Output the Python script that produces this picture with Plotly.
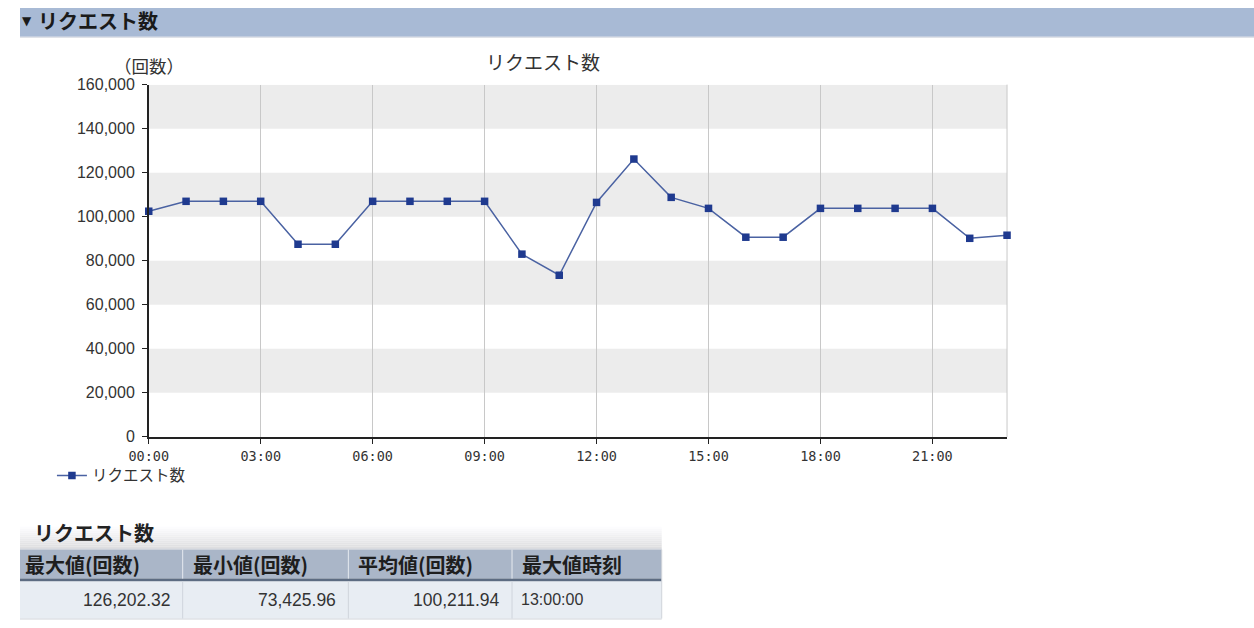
import plotly.graph_objects as go

# ---- data ----
hours = ["00:00", "01:00", "02:00", "03:00", "04:00", "05:00", "06:00", "07:00",
         "08:00", "09:00", "10:00", "11:00", "12:00", "13:00", "14:00", "15:00",
         "16:00", "17:00", "18:00", "19:00", "20:00", "21:00", "22:00", "23:00"]
requests = [102500, 107000, 107000, 107000, 87500, 87500, 107000, 107000,
            107000, 107000, 83000, 73426, 106500, 126202, 108800, 103800,
            90700, 90700, 103800, 103800, 103800, 103800, 90200, 91600]
x_tick_labels = ["00:00", "03:00", "06:00", "09:00", "12:00", "15:00", "18:00", "21:00"]
y_tick_values = [0, 20000, 40000, 60000, 80000, 100000, 120000, 140000, 160000]
band_ranges = [(20000, 40000), (60000, 80000), (100000, 120000), (140000, 160000)]

series_name = "リクエスト数"
section_mark = "▼"
section_title = "リクエスト数"
chart_title = "リクエスト数"
unit_label = "（回数）"
table_title = "リクエスト数"
stat_headers = ["最大値(回数)", "最小値(回数)", "平均値(回数)", "最大値時刻"]
stat_values = ["126,202.32", "73,425.96", "100,211.94", "13:00:00"]

W, H = 1254, 628
# the photographed page is shifted/scaled slightly; map target pixel positions into figure space
OX, SX, OY, SY = 17.0, 0.986, 8.2, 0.975
def X(x):
    return min(max(((x - OX) / SX) / W, 0.0), 1.0)
def Y(y):
    return min(max(1 - ((y - OY) / SY) / H, 0.0), 1.0)

JP = "Noto Sans CJK JP, Noto Sans, sans-serif"
NUM = "Liberation Sans, Arial, sans-serif"

fig = go.Figure()
fig.add_trace(go.Scatter(
    x=hours, y=requests, name=series_name, mode="lines+markers",
    line=dict(color="#4a62a2", width=1.5),
    marker=dict(symbol="square", size=7.5, color="#1f3a8f",
                line=dict(color="#1f3a8f", width=0)),
    cliponaxis=False,
))

P = dict(xref="paper", yref="paper")
shapes = []
for lo, hi in band_ranges:
    shapes.append(dict(type="rect", xref="x domain", yref="y", x0=0, x1=1, y0=lo, y1=hi,
                       fillcolor="#ececec", line=dict(width=0), layer="below"))
shapes.append(dict(type="line", xref="x domain", yref="y domain", x0=1, x1=1, y0=0, y1=1,
                   line=dict(color="#c8c8c8", width=1), layer="below"))

# page header band
shapes.append(dict(type="rect", **P, x0=0, x1=1, y0=Y(37), y1=Y(5),
                   fillcolor="#a8bad5", line=dict(width=0)))
shapes.append(dict(type="line", **P, x0=0, x1=1, y0=Y(37.5), y1=Y(37.5),
                   line=dict(color="#d4d8e0", width=1)))

# table title gradient
tx0, tx1 = 12, 660
grad_top, grad_bot = 528, 550
steps = 11
for i in range(steps):
    a = grad_top + (grad_bot - grad_top) * i / steps
    b = grad_top + (grad_bot - grad_top) * (i + 1) / steps
    g = int(255 - (255 - 222) * (i + 1) / steps)
    shapes.append(dict(type="rect", **P, x0=X(tx0), x1=X(tx1), y0=Y(b), y1=Y(a),
                       fillcolor=f"rgb({g},{g},{g + 2})", line=dict(width=0)))
shapes.append(dict(type="line", **P, x0=X(tx0), x1=X(tx1), y0=Y(550.5), y1=Y(550.5),
                   line=dict(color="#c2c8d2", width=1)))
shapes.append(dict(type="rect", **P, x0=X(tx0), x1=X(tx1), y0=Y(580), y1=Y(551),
                   fillcolor="#aab6c8", line=dict(width=0)))
shapes.append(dict(type="rect", **P, x0=X(tx0), x1=X(tx1), y0=Y(583), y1=Y(580),
                   fillcolor="#5d6c82", line=dict(width=0)))
shapes.append(dict(type="rect", **P, x0=X(tx0), x1=X(tx1), y0=Y(620), y1=Y(583),
                   fillcolor="#e8edf3", line=dict(width=0)))
shapes.append(dict(type="line", **P, x0=X(tx0), x1=X(tx1), y0=Y(620.5), y1=Y(620.5),
                   line=dict(color="#d0d4da", width=1)))
col_edges = [12, 180, 346, 510, 660]
for cx in col_edges[1:-1]:
    shapes.append(dict(type="line", **P, x0=X(cx), x1=X(cx), y0=Y(580), y1=Y(551),
                       line=dict(color="#e6eaf0", width=1)))
    shapes.append(dict(type="line", **P, x0=X(cx), x1=X(cx), y0=Y(620), y1=Y(583),
                       line=dict(color="#cfd4dc", width=1)))
shapes.append(dict(type="line", **P, x0=X(660), x1=X(660), y0=Y(620), y1=Y(551),
                   line=dict(color="#d0d4da", width=1)))

def note(text, x, y, size, anchor="left", family=JP, color="#333333", bold=False):
    f = dict(family=family, size=size, color=color)
    if bold:
        f["weight"] = "bold"
    return dict(text=text, **P, x=X(x), y=Y(y), xanchor=anchor, yanchor="middle",
                showarrow=False, font=f)

annotations = [
    note(section_mark, 17, 21, 12, family="DejaVu Sans, sans-serif", color="#1a1a1a"),
    note(section_title, 33, 21, 20, color="#1a1a1a", bold=True),
    note(chart_title, 541, 62, 19, anchor="center"),
    note(unit_label, 146, 66, 17.5, anchor="center"),
    note(table_title, 29, 534, 20, color="#222222", bold=True),
]
for i, h in enumerate(stat_headers):
    annotations.append(note(h, col_edges[i] + 8, 566, 20, color="#1e1e1e", bold=True))
for i, v in enumerate(stat_values):
    if i < 3:
        annotations.append(note(v, col_edges[i + 1] - 10, 601, 17.5, anchor="right", family=NUM))
    else:
        annotations.append(note(v, col_edges[i] + 7, 601, 16, family=NUM))

fig.update_layout(
    width=W, height=H,
    margin=dict(l=0, r=0, t=0, b=0),
    paper_bgcolor="white", plot_bgcolor="white",
    shapes=shapes, annotations=annotations,
    showlegend=True,
    legend=dict(x=X(49), y=Y(477), xanchor="left", yanchor="middle",
                orientation="h", bgcolor="rgba(0,0,0,0)", itemwidth=30,
                tracegroupgap=0, borderwidth=0,
                font=dict(family=JP, size=15.5, color="#333333")),
    xaxis=dict(
        domain=[X(146), X(1006)], type="category", range=[0, 23],
        tickmode="array", tickvals=x_tick_labels, ticktext=x_tick_labels,
        showgrid=True, gridcolor="#c8c8c8", gridwidth=1,
        showline=True, linecolor="#222222", linewidth=1.5,
        ticks="outside", ticklen=5, tickcolor="#222222", ticklabelstandoff=1,
        tickfont=dict(family="DejaVu Sans Mono, monospace", size=13.5, color="#333333"),
        zeroline=False, fixedrange=True,
    ),
    yaxis=dict(
        domain=[Y(438), Y(85)], range=[0, 160000],
        tickmode="array", tickvals=y_tick_values, tickformat=",",
        showgrid=False, zeroline=False,
        showline=True, linecolor="#222222", linewidth=1.5,
        ticks="outside", ticklen=5, tickcolor="#222222", ticklabelstandoff=4,
        tickfont=dict(family=NUM, size=16, color="#333333"),
        fixedrange=True,
    ),
)

fig.write_html("out.html", config={"displayModeBar": False},
               post_script="document.documentElement.style.margin='0';document.body.style.margin='0';document.body.style.overflow='hidden';document.documentElement.style.overflow='hidden';")
